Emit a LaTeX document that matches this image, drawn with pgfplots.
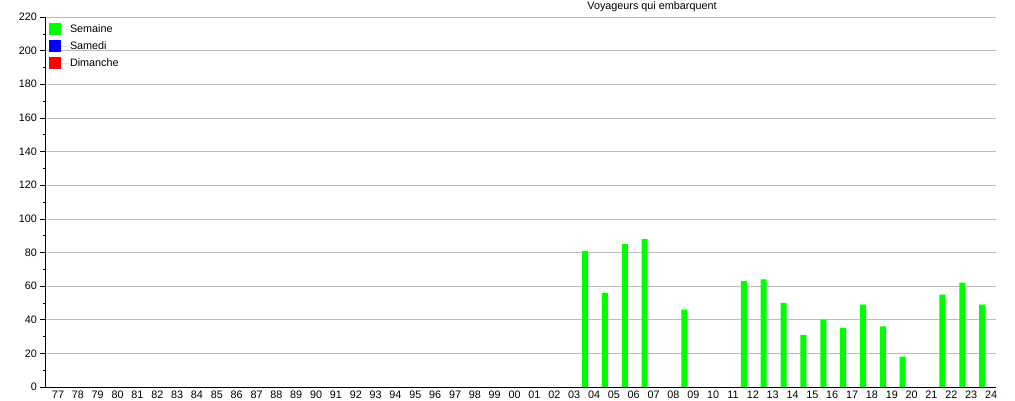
\documentclass[border=0pt]{standalone}
\usepackage{fontspec}
\setmainfont{Liberation Sans}
\usepackage{pgfplots}
\pgfplotsset{compat=1.18}
\definecolor{barGreen}{RGB}{0,255,0}
\definecolor{barBlue}{RGB}{0,0,255}
\definecolor{barRed}{RGB}{255,0,0}
\definecolor{gridGrey}{RGB}{190,190,190}
\begin{document}
\fontsize{10.8}{12}\selectfont
\begin{tikzpicture}[x=1pt,y=1pt]
\useasboundingbox (0,0) rectangle (1015,400);
\begin{axis}[
  at={(45pt,13pt)}, anchor=south west,
  scale only axis, width=951pt, height=370pt,
  xmin=-0.655, xmax=47.25, ymin=0, ymax=220,
  axis x line*=bottom, axis y line*=left,
  axis line style={-, black, line width=0.8pt},
  xtick={0,...,47},
  xticklabels={77,78,79,80,81,82,83,84,85,86,87,88,89,90,91,92,93,94,95,96,97,98,99,00,01,02,03,04,05,06,07,08,09,10,11,12,13,14,15,16,17,18,19,20,21,22,23,24},
  x tick style={draw=none},
  ytick={0,20,...,220},
  minor y tick num=1,
  tick align=outside,
  major tick length=5pt, minor tick length=2pt,
  y tick style={black, line width=0.6pt},
  ymajorgrids, major grid style={gridGrey, line width=0.6pt},
  tick label style={font=\fontsize{10.8}{12}\selectfont},
  /pgf/number format/assume math mode=true,
  yticklabel style={inner sep=3pt},
  xticklabel style={inner sep=0pt, text height=7.8pt, text depth=0pt, yshift=1.5pt},
  legend style={at={(0.004,0.983)}, anchor=north west, draw=none, fill=none,
    inner sep=0pt, row sep=5pt, font=\fontsize{10.8}{12}\selectfont,
    nodes={inner xsep=0pt, inner ysep=0pt, text height=8pt, text depth=2pt}},
  legend cell align=left,
  legend image code/.code={\fill[#1] (0pt,-6pt) rectangle (12pt,6pt); \path (0pt,0pt) -- (21pt,0pt);},
]
\addplot[ybar, bar width=6pt, fill=barGreen, draw=none, forget plot] coordinates {
  (26.55,81) (27.55,56) (28.55,85) (29.55,88) (31.55,46)
  (34.55,63) (35.55,64) (36.55,50) (37.55,31) (38.55,40)
  (39.55,35) (40.55,49) (41.55,36) (42.55,18) (44.55,55)
  (45.55,62) (46.55,49)
};
\addlegendimage{fill=barGreen, draw=none}
\addlegendentry{Semaine}
\addlegendimage{fill=barBlue, draw=none}
\addlegendentry{Samedi}
\addlegendimage{fill=barRed, draw=none}
\addlegendentry{Dimanche}
\end{axis}
\node[anchor=center, inner sep=0pt] at (652,393) {Voyageurs qui embarquent};
\end{tikzpicture}
\end{document}
